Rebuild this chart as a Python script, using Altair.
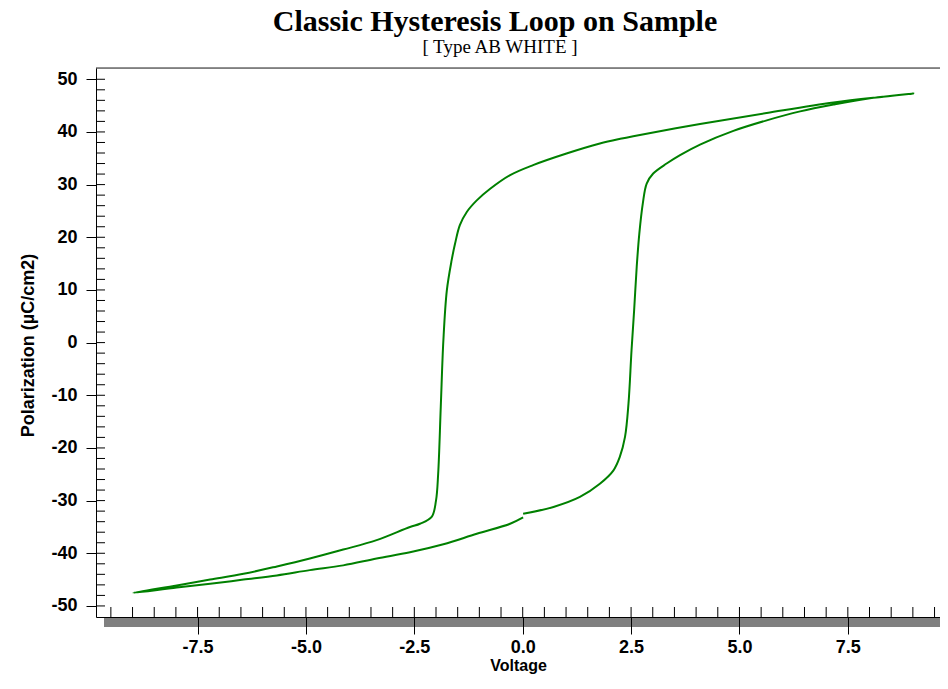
import altair as alt
import pandas as pd

# Hysteresis loop traced in measurement order: 0 -> +9 V -> -9 V -> 0
voltage = [
    0.01, 0.71, 1.32, 1.78, 2.09, 2.24, 2.36, 2.44, 2.51, 2.57, 2.63, 2.69,
    2.77, 2.86, 3.01, 3.32, 3.63, 4.09, 4.86, 5.63, 6.40, 7.17, 7.94, 9.01,
    8.32, 7.17, 5.63, 4.09, 2.55, 2.25, 1.78, 1.01, 0.24, -0.29, -0.75, -1.06,
    -1.29, -1.45, -1.56, -1.64, -1.75, -1.83, -1.89, -1.95, -2.00, -2.10,
    -2.37, -2.60, -3.37, -4.14, -4.91, -5.67, -6.44, -7.21, -7.98, -8.98,
    -7.98, -7.21, -6.44, -5.67, -4.91, -4.14, -3.37, -2.60, -1.83, -1.06,
    -0.29, 0.01,
]
polarization = [
    -32.5, -31.2, -29.3, -26.8, -24.3, -21.7, -17.9, -11.6, -1.5, 6.1, 14.4, 20.7,
    26.4, 30.2, 32.1, 34.0, 35.6, 37.6, 40.2, 42.2, 43.9, 45.2, 46.3, 47.3,
    46.7, 45.6, 43.6, 41.5, 39.2, 38.7, 37.8, 35.9, 33.7, 31.8, 29.2, 27.0,
    24.8, 22.3, 18.8, 15.6, 9.9, 0.4, -12.2, -24.9, -30.0, -33.1,
    -34.4, -35.0, -37.5, -39.3, -41.0, -42.5, -43.9, -45.0, -46.1, -47.5,
    -46.5, -45.8, -45.0, -44.2, -43.2, -42.3, -41.0, -39.8, -38.3, -36.3,
    -34.4, -33.2,
]

x_major_ticks = [-7.5, -5.0, -2.5, 0.0, 2.5, 5.0, 7.5]
x_minor_ticks = [i / 2 for i in range(-19, 20)]
y_major_ticks = [-50, -40, -30, -20, -10, 0, 10, 20, 30, 40, 50]
y_minor_ticks = list(range(-50, 52, 2))

title_text = "Classic Hysteresis Loop on Sample"
subtitle_text = "[ Type AB WHITE ]"
x_title = "Voltage"
y_title = "Polarization (µC/cm2)"

W, H = 844, 549
X_DOMAIN = [-9.843, 9.626]
Y_DOMAIN = [-52.1, 52.14]

df = pd.DataFrame({"V": voltage, "P": polarization, "i": range(len(voltage))})

xscale = alt.Scale(domain=X_DOMAIN, nice=False, zero=False)
yscale = alt.Scale(domain=Y_DOMAIN, nice=False, zero=False)

label_font = "Liberation Sans"

xaxis = alt.Axis(
    values=x_major_ticks, tickSize=17, tickColor="black", domainColor="black",
    tickWidth=1, domainWidth=1, grid=False, zindex=1,
    labelFont=label_font, labelFontWeight="bold", labelFontSize=18, labelColor="black",
    labelPadding=4,
    labelExpr="(datum.value < 0 ? '-' : '') + format(abs(datum.value), '.1f')",
    title=x_title, titleFont=label_font, titleFontWeight="bold", titleFontSize=16,
    titleColor="black", titleY=53, titleBaseline="alphabetic",
)
yaxis = alt.Axis(
    values=y_major_ticks, tickSize=10, tickColor="black", domainColor="black",
    tickWidth=1, domainWidth=1, grid=False, zindex=1,
    labelFont=label_font, labelFontWeight="bold", labelFontSize=18, labelColor="black",
    labelPadding=9,
    labelExpr="(datum.value < 0 ? '-' : '') + format(abs(datum.value), 'd')",
    title=y_title, titleFont=label_font, titleFontWeight="bold", titleFontSize=18,
    titleColor="black", titleAngle=270, titleX=-63, titleY=277,
    titleAlign="center", titleBaseline="alphabetic",
)

line = alt.Chart(df).mark_line(
    color="#008000", strokeWidth=2, interpolate="catmull-rom"
).encode(
    x=alt.X("V:Q", scale=xscale, axis=xaxis),
    y=alt.Y("P:Q", scale=yscale, axis=yaxis),
    order=alt.Order("i:Q"),
)

xminor = alt.Chart(pd.DataFrame({"t": x_minor_ticks})).mark_rule(
    color="black", strokeWidth=1
).encode(
    x=alt.X("t:Q", scale=xscale),
    y=alt.value(H - 10),
    y2=alt.value(H),
)
yminor = alt.Chart(pd.DataFrame({"t": y_minor_ticks})).mark_rule(
    color="black", strokeWidth=1
).encode(
    y=alt.Y("t:Q", scale=yscale),
    x=alt.value(0),
    x2=alt.value(9),
)

topline = alt.Chart(pd.DataFrame({"a": [0]})).mark_rule(
    color="#222222", strokeWidth=1
).encode(x=alt.value(0), x2=alt.value(W), y=alt.value(0))

graybar = alt.Chart(pd.DataFrame({"a": [0]})).mark_rect(
    color="#808080"
).encode(x=alt.value(8), x2=alt.value(W), y=alt.value(H + 1), y2=alt.value(H + 10))

title = alt.Chart(pd.DataFrame({"t": [title_text]})).mark_text(
    font="Liberation Serif", fontWeight="bold", fontSize=30, color="black",
    align="center", baseline="alphabetic",
).encode(text="t:N", x=alt.value(399), y=alt.value(-37))

subtitle = alt.Chart(pd.DataFrame({"t": [subtitle_text]})).mark_text(
    font="Liberation Serif", fontSize=19, color="black",
    align="center", baseline="alphabetic",
).encode(text="t:N", x=alt.value(404), y=alt.value(-15))

chart = alt.layer(
    graybar, line, xminor, yminor, topline, title, subtitle
).properties(
    width=W, height=H,
    autosize=alt.AutoSizeParams(type="none"),
    padding={"left": 88, "top": 60, "right": 0, "bottom": 57},
).configure_view(stroke=None).configure(background="white")

chart.save("out.html", embed_options={"renderer": "svg", "actions": False})
